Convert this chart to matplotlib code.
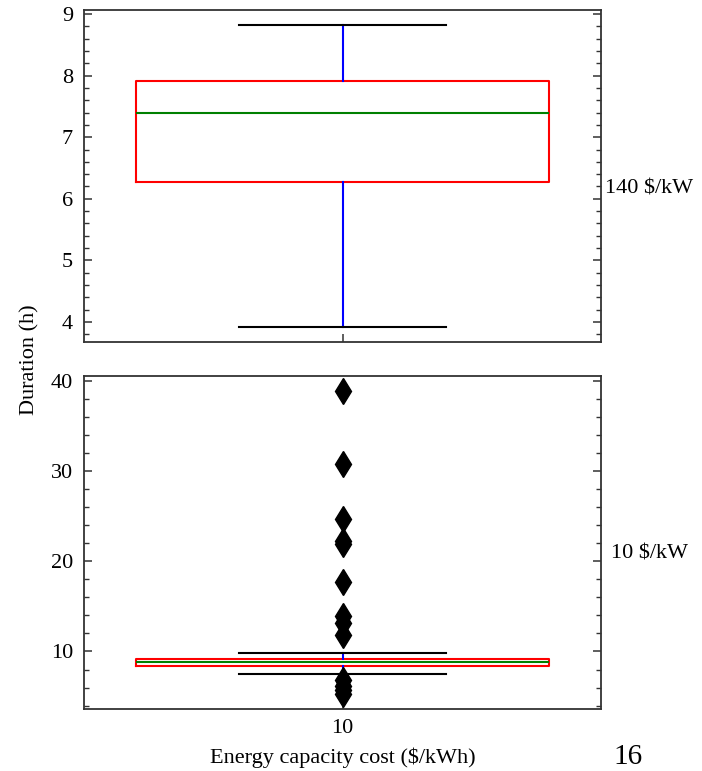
import matplotlib
matplotlib.use("Agg")
import matplotlib.pyplot as plt
from matplotlib.ticker import AutoMinorLocator

plt.rcParams['font.family'] = ['Liberation Serif', 'DejaVu Serif']
plt.rcParams['font.size'] = 16

# Box statistics (duration in hours)
positions = [1]
xtick_labels = ["10"]

# 140 $/kW power cost
top_whislo = 3.92
top_q1 = 6.27
top_med = 7.39
top_q3 = 7.91
top_whishi = 8.82
top_fliers = []

# 10 $/kW power cost
bot_whislo = 7.49
bot_q1 = 8.44
bot_med = 8.82
bot_q3 = 9.16
bot_whishi = 9.82
bot_fliers = [38.9, 30.8, 24.7, 22.3, 21.9, 17.7, 13.9, 13.2, 11.8, 6.8, 6.2, 5.7, 5.3]

panel_labels = ["140 $/kW", "10 $/kW"]


def style_axis(ax):
    ax.tick_params(axis='both', which='both', direction='in', top=False, right=True)
    ax.tick_params(axis='y', which='major', length=6, width=1.1, color='#333333', pad=8)
    ax.tick_params(axis='y', which='minor', length=3.5, width=1.0, color='#333333')
    ax.tick_params(axis='x', which='major', length=6, width=1.1, color='#333333', pad=7)
    ax.yaxis.set_minor_locator(AutoMinorLocator(5))
    for s in ax.spines.values():
        s.set_linewidth(1.3)
        s.set_color('#333333')


def draw_box(ax, whislo, q1, med, q3, whishi, fliers):
    stats = [dict(whislo=whislo, q1=q1, med=med, q3=q3, whishi=whishi, fliers=fliers)]
    ax.bxp(stats, positions=positions, widths=0.8,
           boxprops=dict(color='red', linewidth=1.5),
           medianprops=dict(color='green', linewidth=1.5),
           whiskerprops=dict(color='blue', linewidth=1.5),
           capprops=dict(color='black', linewidth=1.5),
           flierprops=dict(marker='d', markerfacecolor='black', markeredgecolor='black',
                           markersize=13, linestyle='none'))
    ax.margins(y=0.05)
    ax.set_xlim(0.5, 1.5)


fig = plt.figure(figsize=(7.02, 7.71), dpi=100)
ax1 = fig.add_axes([0.1197, 0.5564, 0.7365, 0.4306])
ax2 = fig.add_axes([0.1197, 0.0804, 0.7365, 0.4323])

draw_box(ax1, top_whislo, top_q1, top_med, top_q3, top_whishi, top_fliers)
draw_box(ax2, bot_whislo, bot_q1, bot_med, bot_q3, bot_whishi, bot_fliers)

ax1.set_xticks(positions)
ax1.set_xticklabels([])
ax2.set_xticks(positions)
ax2.set_xticklabels(xtick_labels)

style_axis(ax1)
style_axis(ax2)

ax1.text(1.008, 0.46, panel_labels[0], transform=ax1.transAxes, ha='left', va='center')
ax2.text(1.019, 0.466, panel_labels[1], transform=ax2.transAxes, ha='left', va='center')

fig.text(30 / 702, 1 - 360 / 771, "Duration (h)", rotation=90, ha='center', va='center')
ax2.set_xlabel("Energy capacity cost ($/kWh)", labelpad=7)
fig.text(628 / 702, 1 / 771, "16", ha='center', va='bottom', fontsize=21)

fig.savefig("out.png", dpi=100)
